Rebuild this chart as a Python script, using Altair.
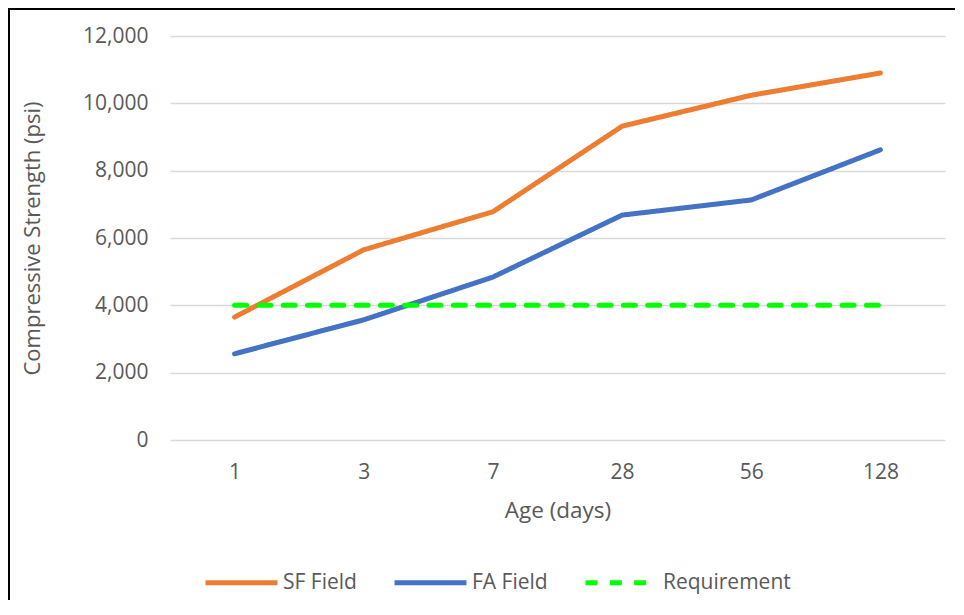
import altair as alt
import pandas as pd

ages = ["1", "3", "7", "28", "56", "128"]
sf_field = [3650, 5650, 6780, 9320, 10240, 10900]
fa_field = [2560, 3570, 4840, 6680, 7130, 8620]
requirement = [4000, 4000, 4000, 4000, 4000, 4000]
series_names = ["SF Field", "FA Field", "Requirement"]
series_colors = ["#ED7D31", "#4472C4", "#00FF00"]
y_ticks = [0, 2000, 4000, 6000, 8000, 10000, 12000]

rows = []
for name, vals in zip(series_names, [sf_field, fa_field, requirement]):
    for a, v in zip(ages, vals):
        rows.append({"Age": a, "Strength": v, "Series": name})
df = pd.DataFrame(rows)

FONT = "Open Sans"
TXT = "#595959"


def make_legend():
    return alt.Legend(title=None, orient="none", direction="horizontal",
                      legendX=33, legendY=508,
                      symbolType="stroke", symbolSize=5184,
                      symbolStrokeWidth=5, labelFontSize=21,
                      labelFont=FONT, labelColor=TXT, columnPadding=27,
                      labelOffset=3)


lines = alt.Chart(df).mark_line(strokeWidth=5, strokeCap="round", strokeJoin="round").encode(
    x=alt.X("Age:O", sort=ages, scale=alt.Scale(type="point", padding=0.5),
            axis=alt.Axis(title="Age (days)", labelAngle=0, domain=False, ticks=False,
                          labelPadding=21, titleY=70, titleBaseline="middle",
                          titleFontSize=22.5)),
    y=alt.Y("Strength:Q", scale=alt.Scale(domain=[0, 12000], nice=False),
            axis=alt.Axis(title="Compressive Strength (psi)", values=y_ticks, format=",.0f",
                          domain=False, ticks=False, labelPadding=22,
                          titleX=-138, titleY=202, titleBaseline="middle",
                          titleFontSize=22)),
    color=alt.Color("Series:N", scale=alt.Scale(domain=series_names, range=series_colors),
                    legend=make_legend()),
    strokeDash=alt.StrokeDash("Series:N",
                              scale=alt.Scale(domain=series_names,
                                              range=[[1, 0], [1, 0], [12, 12.3]]),
                              legend=make_legend()),
    detail="Series:N",
)

border_left = alt.Chart(pd.DataFrame({"k": [0]})).mark_rule(color="black", strokeWidth=2).encode(
    x=alt.value(-161), y=alt.value(-27), y2=alt.value(600)
)
border_top = alt.Chart(pd.DataFrame({"k": [0]})).mark_rule(color="black", strokeWidth=2).encode(
    x=alt.value(-162), x2=alt.value(900), y=alt.value(-27)
)

chart = alt.layer(lines, border_left, border_top).properties(
    width=775, height=404,
    autosize=alt.AutoSizeParams(type="none"),
    padding={"left": 162, "top": 28, "right": 10, "bottom": 160},
).configure_view(stroke=None).configure_axis(
    labelFont=FONT, titleFont=FONT, labelColor=TXT, titleColor=TXT,
    labelFontSize=21, titleFontWeight="normal",
    gridColor="#D9D9D9", gridWidth=1.5,
)

chart.save("out.html", embed_options={"renderer": "svg", "actions": False})
